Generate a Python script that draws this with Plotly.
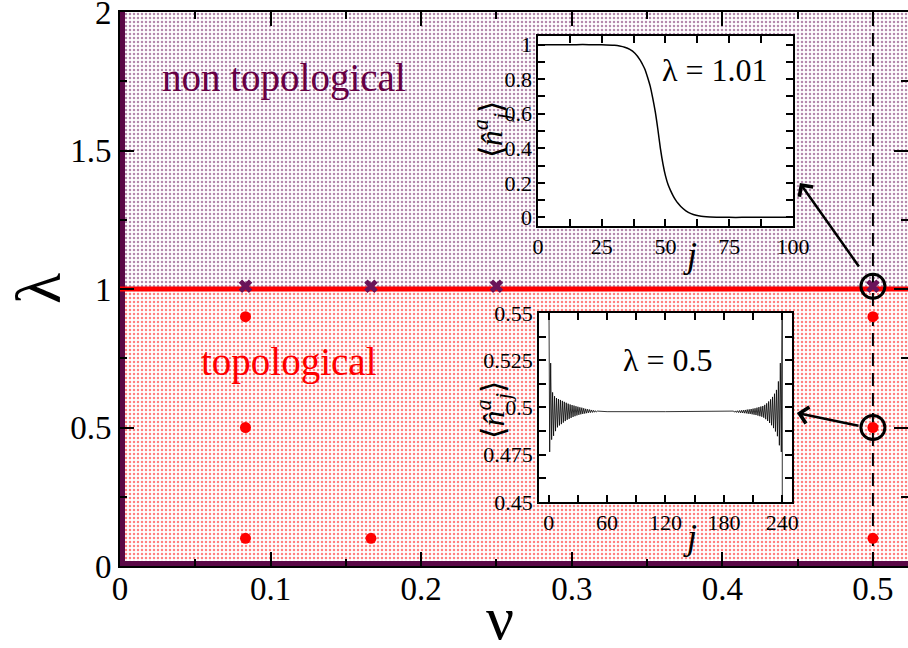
import plotly.graph_objects as go

# ---------------- phase diagram data ----------------
LAMBDA_C = 1.0          # critical line between the two phases
LAMBDA_MAX = 2.0
NU_MAX = 0.5233         # right end of the nu axis
NU_CUT = 0.5            # dashed cut through the diagram

nu_topo = [1 / 12, 1 / 12, 1 / 12, 1 / 6, 0.5, 0.5, 0.5]
lam_topo = [0.9, 0.5, 0.1, 0.1, 0.9, 0.5, 0.1]

nu_nontopo = [1 / 12, 1 / 6, 1 / 4, 0.5]
lam_nontopo = [1.01, 1.01, 1.01, 1.01]

nu_circled = [0.5, 0.5]
lam_circled = [1.01, 0.5]

x_tickvals = [0, 0.1, 0.2, 0.3, 0.4, 0.5]
x_ticktext = ["0", "0.1", "0.2", "0.3", "0.4", "0.5"]
y_tickvals = [0, 0.5, 1, 1.5, 2]
y_ticktext = ["0", "0.5", "1", "1.5", "2"]

# ---------------- inset: lambda = 1.01 density profile ----------------
j_a = [0, 5, 10, 15, 20, 25, 30, 32, 34, 36, 38, 40, 41, 42, 43, 44, 45, 46, 47,
       48, 49, 50, 51, 52, 53, 54, 55, 56, 58, 60, 62, 64, 66, 70, 75, 80, 90, 100]
n_a = [1.0, 1.0, 1.0, 1.0, 1.0, 0.999, 0.996, 0.992, 0.985, 0.972, 0.950, 0.912,
       0.885, 0.855, 0.81, 0.76, 0.69, 0.61, 0.51, 0.40, 0.31, 0.24, 0.19, 0.155,
       0.125, 0.10, 0.08, 0.063, 0.038, 0.022, 0.012, 0.006, 0.003, 0.001, 0.0,
       0.0, 0.0, 0.0]
a_xticks = [0, 25, 50, 75, 100]
a_yticks = [0, 0.2, 0.4, 0.6, 0.8, 1]
a_yticktext = ["0", "0.2", "0.4", "0.6", "0.8", "1"]

# ---------------- inset: lambda = 0.5 density profile ----------------
n_b_left = [0.58, 0.4765, 0.5235, 0.4830, 0.5080, 0.4850, 0.5060, 0.4875, 0.5050,
            0.4895, 0.5045, 0.4905, 0.5040, 0.4912, 0.5035, 0.4920, 0.5030, 0.4928,
            0.5025, 0.4935, 0.5020, 0.4940, 0.5016, 0.4945, 0.5013, 0.4950, 0.5010,
            0.4954, 0.5007, 0.4958, 0.5004, 0.4961, 0.5001, 0.4964, 0.4999, 0.4966,
            0.4996, 0.4968, 0.4993, 0.4970, 0.4991, 0.4972, 0.4989, 0.4973, 0.4987,
            0.4974, 0.4985, 0.4975, 0.4983, 0.4976, 0.4981]
j_b_mid = [60, 120, 180]
n_b_mid = [0.4978, 0.4978, 0.4978]
n_b_right = [0.4981, 0.4975, 0.4982, 0.4974, 0.4983, 0.4973, 0.4984, 0.4972, 0.4985,
             0.4971, 0.4986, 0.4970, 0.4987, 0.4969, 0.4989, 0.4967, 0.4990, 0.4966,
             0.4992, 0.4964, 0.4994, 0.4962, 0.4996, 0.4960, 0.4999, 0.4957, 0.5002,
             0.4954, 0.5005, 0.4951, 0.5008, 0.4946, 0.5014, 0.4938, 0.5022, 0.4929,
             0.5032, 0.4918, 0.5043, 0.4906, 0.5056, 0.4891, 0.5073, 0.4873, 0.5093,
             0.4848, 0.5138, 0.4800, 0.5235, 0.4765]
j_b_end = [240, 240]
n_b_end = [0.57, 0.43]

j_b = (list(range(len(n_b_left))) + j_b_mid
       + list(range(190, 190 + len(n_b_right))) + j_b_end)
n_b = n_b_left + n_b_mid + n_b_right + n_b_end

b_xticks = [0, 60, 120, 180, 240]
b_yticks = [0.45, 0.475, 0.5, 0.525, 0.55]
b_yticktext = ["0.45", "0.475", "0.5", "0.525", "0.55"]

# ---------------- styling ----------------
SERIF = "Liberation Serif, Times New Roman, Times, serif"
PURPLE = "#6a1459"
PURPLE_EDGE = "#5a0846"
PURPLE_TEXT = "#660044"
RED = "#ff0000"

fig = go.Figure()

# phase regions with dotted fill
fig.add_trace(go.Scatter(
    x=[0, NU_MAX, NU_MAX, 0], y=[LAMBDA_C, LAMBDA_C, LAMBDA_MAX, LAMBDA_MAX],
    fill="toself", mode="none", hoverinfo="skip",
    fillpattern=dict(shape=".", fgcolor=PURPLE, bgcolor="white", size=4, solidity=0.3),
))
fig.add_trace(go.Scatter(
    x=[0, NU_MAX, NU_MAX, 0], y=[0, 0, LAMBDA_C, LAMBDA_C],
    fill="toself", mode="none", hoverinfo="skip",
    fillpattern=dict(shape=".", fgcolor=RED, bgcolor="white", size=4, solidity=0.3),
))

# thick edge of the phase regions along the left and bottom axes
fig.add_trace(go.Scatter(
    x=[0, 0, NU_MAX], y=[LAMBDA_MAX, 0, 0], mode="lines", hoverinfo="skip",
    line=dict(color=PURPLE_EDGE, width=10),
))

# critical line
fig.add_trace(go.Scatter(
    x=[0, NU_MAX], y=[LAMBDA_C, LAMBDA_C], mode="lines", hoverinfo="skip",
    line=dict(color=RED, width=5),
))

# dashed cut at nu = 1/2
fig.add_trace(go.Scatter(
    x=[NU_CUT, NU_CUT], y=[0, LAMBDA_MAX], mode="lines", hoverinfo="skip",
    line=dict(color="black", width=2, dash="13px,7px"),
))

# sampled points
fig.add_trace(go.Scatter(
    x=nu_topo, y=lam_topo, mode="markers",
    marker=dict(symbol="circle", size=11, color=RED),
))
fig.add_trace(go.Scatter(
    x=nu_nontopo, y=lam_nontopo, mode="markers",
    marker=dict(symbol="x", size=12, color=PURPLE, line=dict(width=0)),
))
fig.add_trace(go.Scatter(
    x=nu_circled, y=lam_circled, mode="markers",
    marker=dict(symbol="circle-open", size=24, color="black", line=dict(width=3, color="black")),
))

# inset profiles
fig.add_trace(go.Scatter(
    x=j_a, y=n_a, mode="lines", xaxis="x2", yaxis="y2",
    line=dict(color="black", width=1.5, shape="spline", smoothing=0.6),
))
fig.add_trace(go.Scatter(
    x=j_b, y=n_b, mode="lines", xaxis="x3", yaxis="y3",
    line=dict(color="black", width=0.8),
))

main_axis = dict(
    showline=True, linecolor="black", linewidth=2, mirror="allticks",
    ticks="inside", ticklen=14, tickwidth=2, tickcolor="black",
    showgrid=False, zeroline=False, ticklabeloverflow="allow", automargin=False,
    tickfont=dict(family=SERIF, size=33, color="black"),
)
inset_axis = dict(
    showline=True, linecolor="black", linewidth=1.5, mirror="allticks",
    ticks="inside", ticklen=7, tickwidth=1.5, tickcolor="black",
    showgrid=False, zeroline=False, ticklabeloverflow="allow", automargin=False,
    tickfont=dict(family=SERIF, size=22, color="black"),
)

fig.update_layout(
    width=908, height=648,
    margin=dict(l=120, r=0, t=12, b=82, pad=0),
    plot_bgcolor="white", paper_bgcolor="white",
    showlegend=False,
    font=dict(family=SERIF, color="black"),
    xaxis=dict(main_axis, range=[0, NU_MAX], domain=[0, 1],
               tickvals=x_tickvals, ticktext=x_ticktext, ticklabelstandoff=-8,
               minor=dict(dtick=0.05, tick0=0, ticks="inside", ticklen=7, tickwidth=2,
                          tickcolor="black")),
    yaxis=dict(main_axis, range=[0, LAMBDA_MAX], domain=[0, 1],
               tickvals=y_tickvals, ticktext=y_ticktext,
               minor=dict(dtick=0.25, tick0=0, ticks="inside", ticklen=7, tickwidth=2,
                          tickcolor="black")),
    xaxis2=dict(inset_axis, range=[0, 100], domain=[0.5305, 0.854], anchor="y2",
                tickvals=a_xticks,
                minor=dict(dtick=12.5, tick0=0, ticks="inside", ticklen=7, tickwidth=1.5,
                           tickcolor="black")),
    yaxis2=dict(inset_axis, range=[-0.05, 1.05], domain=[0.6137, 0.9567], anchor="x2",
                tickvals=a_yticks, ticktext=a_yticktext,
                minor=dict(dtick=0.1, tick0=0, ticks="inside", ticklen=7, tickwidth=1.5,
                           tickcolor="black")),
    xaxis3=dict(inset_axis, range=[-10, 250], domain=[0.5317, 0.8528], anchor="y3",
                tickvals=b_xticks,
                minor=dict(dtick=30, tick0=0, ticks="inside", ticklen=7, tickwidth=1.5,
                           tickcolor="black")),
    yaxis3=dict(inset_axis, range=[0.45, 0.55], domain=[0.1155, 0.4567], anchor="x3",
                tickvals=b_yticks, ticktext=b_yticktext,
                minor=dict(dtick=0.0125, tick0=0.45, ticks="inside", ticklen=7,
                           tickwidth=1.5, tickcolor="black")),
)

C = dict(xanchor="center", yanchor="middle", showarrow=False)
NHAT = "⟨<i>n̂</i><sup><i>a</i></sup><sub><i>j</i></sub>⟩"
annotations = [
    # axis titles
    dict(C, text="ν", xref="paper", yref="paper", x=0.482, y=-0.094,
         font=dict(family=SERIF, size=62)),
    dict(C, text="λ", xref="paper", yref="paper", x=-0.104, y=0.5, textangle=-90,
         font=dict(family=SERIF, size=64)),
    # phase names
    dict(C, text="non topological", xref="x", yref="y", x=0.1086, y=1.762,
         font=dict(family=SERIF, size=39, color=PURPLE_TEXT)),
    dict(C, text="topological", xref="x", yref="y", x=0.1122, y=0.736,
         font=dict(family=SERIF, size=39, color=RED)),
    # inset labels
    dict(C, text="λ = 1.01", xref="x2", yref="y2", x=69.4, y=0.855,
         font=dict(family=SERIF, size=32)),
    dict(C, text="λ = 0.5", xref="x3", yref="y3", x=122.6, y=0.525,
         font=dict(family=SERIF, size=32)),
    dict(C, text="<i>j</i>", xref="paper", yref="paper", x=0.7234, y=0.5614,
         font=dict(family=SERIF, size=36)),
    dict(C, text="<i>j</i>", xref="paper", yref="paper", x=0.7234, y=0.0523,
         font=dict(family=SERIF, size=36)),
    dict(C, text=NHAT, xref="paper", yref="paper", x=0.470, y=0.787, textangle=-90,
         font=dict(family=SERIF, size=32)),
    dict(C, text=NHAT, xref="paper", yref="paper", x=0.474, y=0.2816, textangle=-90,
         font=dict(family=SERIF, size=32)),
    # arrows from the circled points to their profiles
    dict(text="", xref="x", yref="y", axref="x", ayref="y",
         x=0.4515, y=1.383, ax=0.4914, ay=1.076,
         showarrow=True, arrowhead=4, arrowsize=1.3, arrowwidth=2.5, arrowcolor="black"),
    dict(text="", xref="x", yref="y", axref="x", ayref="y",
         x=0.4495, y=0.5523, ax=0.4914, ay=0.5054,
         showarrow=True, arrowhead=4, arrowsize=1.3, arrowwidth=2.5, arrowcolor="black"),
]
fig.update_layout(annotations=annotations)

fig.write_html("out.html")
